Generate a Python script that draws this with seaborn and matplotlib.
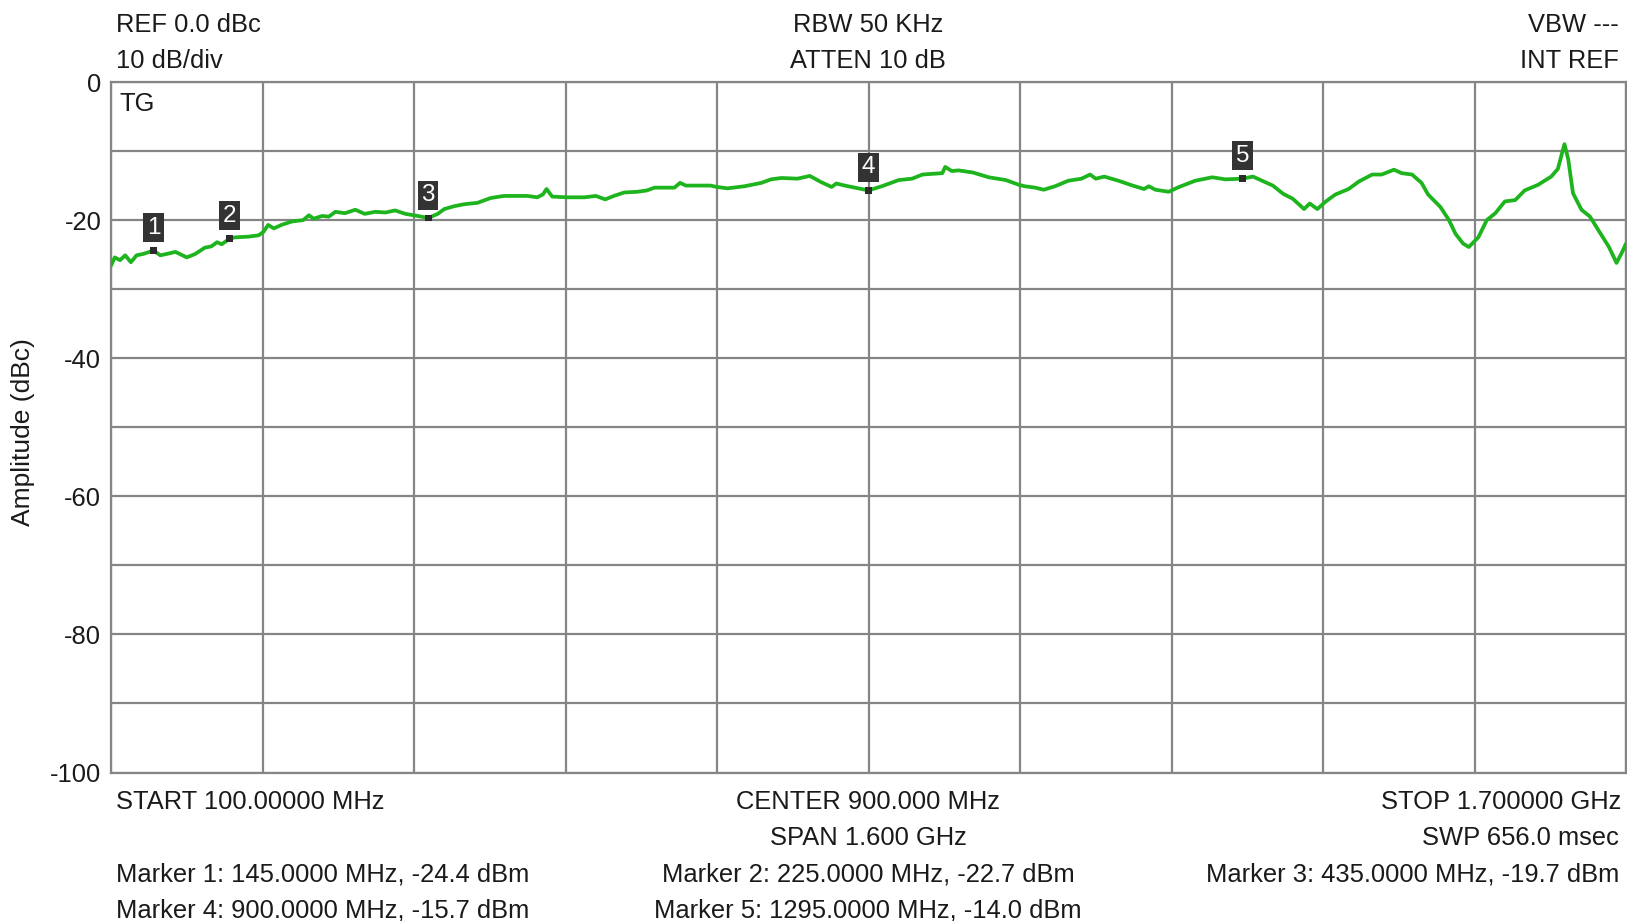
import matplotlib
matplotlib.use("Agg")
import matplotlib.pyplot as plt
import seaborn as sns
import pandas as pd
import numpy as np

# Swept tracking-generator response, 100 MHz .. 1.7 GHz
freq_mhz = [
    100, 104, 109.5, 115, 121, 127, 134, 145, 152, 159, 168, 180, 189, 199, 206,
    212, 217, 225, 231, 245, 256, 261, 266, 272, 280, 291, 303, 309, 314, 323,
    330, 337, 347, 358, 368, 379, 390, 400, 411, 420, 424, 435, 445, 452, 462,
    473, 487, 501, 515, 540, 550, 556, 560, 566, 582, 600, 612, 622, 631, 642,
    656, 666, 674, 695, 701, 707, 733, 740, 751, 769, 787, 797, 808, 825, 838,
    850, 861, 866, 875, 889, 900, 914, 932, 946, 957, 978, 981, 988, 995, 1010,
    1027, 1045, 1059, 1065, 1076, 1085, 1097, 1111, 1125, 1134, 1140, 1149, 1164,
    1179, 1191, 1196, 1203, 1217, 1228, 1245, 1263, 1277, 1295, 1306, 1327, 1338,
    1348, 1360, 1366, 1374, 1383, 1393, 1407, 1418, 1432, 1442, 1455, 1463, 1474,
    1484, 1491, 1504, 1513, 1520, 1528, 1534, 1544, 1553, 1562, 1572, 1583, 1593,
    1607, 1621, 1628, 1635, 1639, 1644, 1653, 1662, 1671, 1682, 1690, 1696, 1700,
]
level_dbc = [
    -26.6, -25.4, -25.8, -25.1, -26.1, -25.1, -24.9, -24.4, -25.1, -24.9, -24.6,
    -25.4, -24.9, -24.0, -23.8, -23.2, -23.5, -22.7, -22.5, -22.4, -22.2, -21.7,
    -20.7, -21.2, -20.7, -20.2, -20.0, -19.3, -19.8, -19.4, -19.5, -18.8, -19.0,
    -18.5, -19.1, -18.8, -18.9, -18.6, -19.1, -19.3, -19.4, -19.7, -19.1, -18.4,
    -18.0, -17.7, -17.5, -16.8, -16.5, -16.5, -16.7, -16.3, -15.5, -16.6, -16.7,
    -16.7, -16.5, -17.0, -16.5, -16.0, -15.9, -15.7, -15.3, -15.3, -14.6, -15.0,
    -15.0, -15.2, -15.4, -15.1, -14.6, -14.1, -13.9, -14.0, -13.6, -14.5, -15.2,
    -14.7, -15.0, -15.4, -15.7, -15.1, -14.2, -14.0, -13.4, -13.2, -12.3, -12.9,
    -12.8, -13.1, -13.8, -14.2, -14.9, -15.1, -15.3, -15.6, -15.1, -14.3, -14.0,
    -13.4, -14.0, -13.7, -14.3, -15.0, -15.5, -15.1, -15.6, -15.9, -15.2, -14.3,
    -13.8, -14.1, -14.0, -13.7, -15.0, -16.2, -16.9, -18.4, -17.6, -18.4, -17.3,
    -16.3, -15.5, -14.4, -13.4, -13.4, -12.7, -13.2, -13.4, -14.6, -16.3, -18.1,
    -20.0, -22.0, -23.4, -23.9, -22.5, -20.0, -19.0, -17.3, -17.1, -15.7, -14.9,
    -13.7, -12.6, -9.0, -11.2, -16.1, -18.5, -19.5, -21.5, -23.9, -26.2, -24.6,
    -23.4,
]

# Markers
marker_ids = [1, 2, 3, 4, 5]
marker_freq = [145.0, 225.0, 435.0, 900.0, 1295.0]
marker_level = [-24.4, -22.7, -19.7, -15.7, -14.0]

y_ticks = [0, -20, -40, -60, -80, -100]

W, H = 1627, 921
DPI = 100
sns.set_theme(style="white")
plt.rcParams["font.family"] = ["Liberation Sans", "DejaVu Sans"]
plt.rcParams["axes.unicode_minus"] = False

fig = plt.figure(figsize=(W / DPI, H / DPI), dpi=DPI)
ax = fig.add_axes([111 / W, (H - 772.5) / H, 1515 / W, 690.5 / H])

GRID = "#858585"
TXT = "#1a1a1a"
FS = 18.4

trace = pd.DataFrame({"freq": freq_mhz, "level": level_dbc})
sns.lineplot(data=trace, x="freq", y="level", ax=ax, color="#1db41d",
             linewidth=2.7, zorder=3)

mk = pd.DataFrame({"id": marker_ids, "freq": marker_freq, "level": marker_level})
sns.scatterplot(data=mk, x="freq", y="level", ax=ax, marker="s", s=24,
                color="#2b2b2b", edgecolor="none", zorder=4)
for mid, f, lv in zip(marker_ids, marker_freq, marker_level):
    ax.annotate(str(mid), xy=(f, lv), xytext=(0, 16.5), textcoords="offset points",
                ha="center", va="center", fontsize=17.5, color="white", zorder=5,
                bbox=dict(boxstyle="square,pad=0.14", fc="#333333", ec="none"))

ax.set_xlim(100, 1700)
ax.set_ylim(-100, 0)
ax.set_xticks(np.linspace(100, 1700, 11))
ax.set_yticks(np.arange(-100, 1, 10))
ax.set_yticklabels([str(t) if t in y_ticks else "" for t in np.arange(-100, 1, 10)])
ax.tick_params(axis="x", labelbottom=False, length=0)
ax.tick_params(axis="y", length=0, pad=7, labelsize=FS, labelcolor=TXT)
ax.grid(True, color=GRID, linewidth=1.6)
for s in ax.spines.values():
    s.set_color(GRID)
    s.set_linewidth(1.6)
ax.set_xlabel("")
ax.set_ylabel("")

fig.text(23 / W, 1 - 432 / H, "Amplitude (dBc)", rotation=90, ha="center",
         va="center", fontsize=FS + 0.6, color=TXT)


def put(x, y, s, ha="left"):
    fig.text(x / W, 1 - y / H, s, ha=ha, va="center", fontsize=FS, color=TXT)


put(116, 25, "REF 0.0 dBc")
put(116, 61, "10 dB/div")
put(868, 25, "RBW 50 KHz", "center")
put(868, 61, "ATTEN 10 dB", "center")
put(1619, 25, "VBW ---", "right")
put(1619, 61, "INT REF", "right")
ax.text(8 / 1515, 1 - 22 / 690.5, "TG", transform=ax.transAxes, ha="left",
        va="center", fontsize=FS, color=TXT)

put(116, 802, "START 100.00000 MHz")
put(868, 802, "CENTER 900.000 MHz", "center")
put(1621, 802, "STOP 1.700000 GHz", "right")
put(868, 838, "SPAN 1.600 GHz", "center")
put(1619, 838, "SWP 656.0 msec", "right")

labels = [f"Marker {i}: {f:.4f} MHz, {lv:.1f} dBm"
          for i, f, lv in zip(marker_ids, marker_freq, marker_level)]
put(116, 874, labels[0])
put(868, 874, labels[1], "center")
put(1619, 874, labels[2], "right")
put(116, 910, labels[3])
put(868, 910, labels[4], "center")

fig.savefig("out.png", dpi=DPI)
